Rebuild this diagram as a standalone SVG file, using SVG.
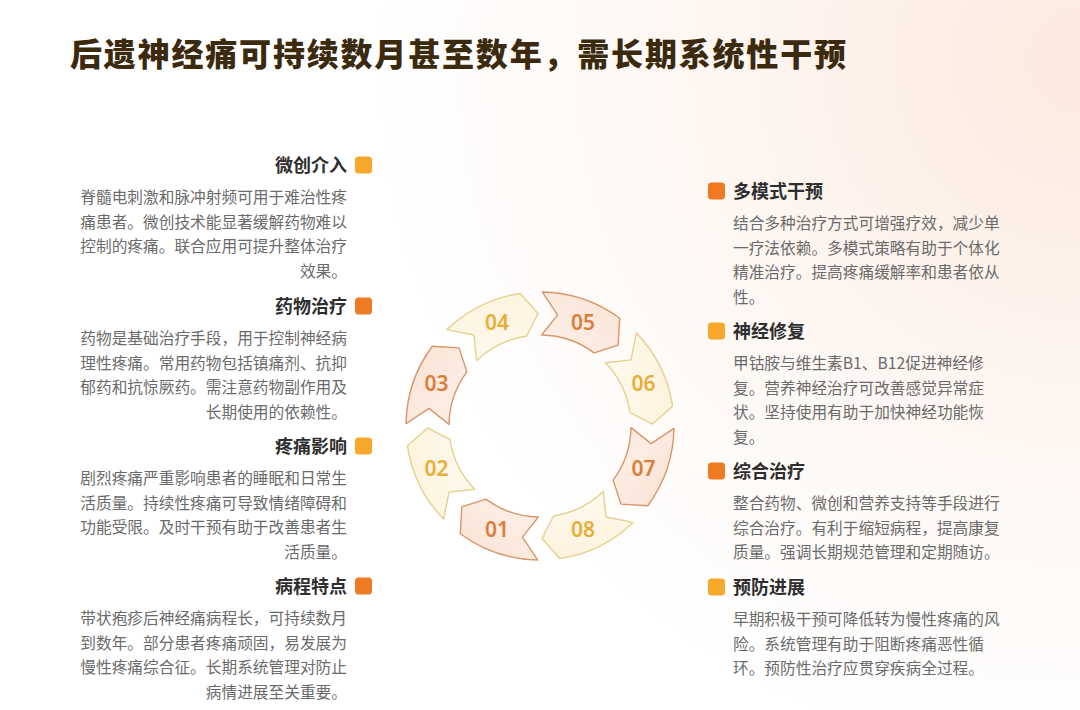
<svg xmlns="http://www.w3.org/2000/svg" width="1080" height="710" viewBox="0 0 1080 710">
<defs>
<radialGradient id="bg" cx="1080" cy="60" r="700" gradientUnits="userSpaceOnUse">
<stop offset="0" stop-color="#fce9de"/>
<stop offset="0.5" stop-color="#fef6f1"/>
<stop offset="1" stop-color="#ffffff"/>
</radialGradient>
<linearGradient id="fo" x1="0" y1="0" x2="1" y2="1">
<stop offset="0" stop-color="#fdf1e9"/>
<stop offset="1" stop-color="#fae3d4"/>
</linearGradient>
<linearGradient id="fe" x1="0" y1="0" x2="1" y2="1">
<stop offset="0" stop-color="#fffbf1"/>
<stop offset="1" stop-color="#fdf1d9"/>
</linearGradient>
<path id="seg" d="M133.98,2.34 A134,134 0 0 1 107.72,79.71 L80.93,78.15 L73.15,54.13 A91,91 0 0 0 90.99,1.59 L111.12,17.60 Z"/>
<style>
.title{font-family:"Noto Sans CJK SC","Noto Sans",sans-serif;font-size:32px;font-weight:900;fill:#3b2a0d}
.h{font-family:"Noto Sans CJK SC","Noto Sans",sans-serif;font-size:18px;font-weight:700;fill:#2e2e2e}
.b{font-family:"Noto Sans CJK SC","Noto Sans",sans-serif;font-size:15.7px;font-weight:400;fill:#6b6b6b}
.l .b,.l .h{text-anchor:end}
.mo{fill:#ef7a22}
.my{fill:#f5a82a}
.so{fill:url(#fo);stroke:#d9956a;stroke-width:1.4;stroke-linejoin:round}
.se{fill:url(#fe);stroke:#e6d08e;stroke-width:1.4;stroke-linejoin:round}
.num{font-family:"Noto Sans","Open Sans",sans-serif;font-size:21px;font-weight:600;text-anchor:middle}
.no{fill:#dc7d3c}
.ne{fill:#e8ae36}
</style>
</defs>
<rect width="1080" height="710" fill="url(#bg)"/>
<text class="title" x="70" y="66" textLength="776" lengthAdjust="spacing">后遗神经痛可持续数月甚至数年，需长期系统性干预</text>

<g id="connectors"></g>

<g id="ring">
<g id="seg01"><use href="#seg" class="so" transform="translate(540,426) rotate(90)"/><text class="num no" x="497.1" y="537">01</text></g>
<g id="seg02"><use href="#seg" class="se" transform="translate(540,426) rotate(135)"/><text class="num ne" x="436.5" y="476.4">02</text></g>
<g id="seg03"><use href="#seg" class="so" transform="translate(540,426) rotate(180)"/><text class="num no" x="436.5" y="390.6">03</text></g>
<g id="seg04"><use href="#seg" class="se" transform="translate(540,426) rotate(225)"/><text class="num ne" x="497.1" y="330">04</text></g>
<g id="seg05"><use href="#seg" class="so" transform="translate(540,426) rotate(-90)"/><text class="num no" x="582.9" y="330">05</text></g>
<g id="seg06"><use href="#seg" class="se" transform="translate(540,426) rotate(-45)"/><text class="num ne" x="643.5" y="390.6">06</text></g>
<g id="seg07"><use href="#seg" class="so" transform="translate(540,426) rotate(0)"/><text class="num no" x="643.5" y="476.4">07</text></g>
<g id="seg08"><use href="#seg" class="se" transform="translate(540,426) rotate(45)"/><text class="num ne" x="582.9" y="537">08</text></g>
</g>

<g id="left-1" class="l">
<rect class="my" x="355" y="156.5" width="17" height="17" rx="3.5"/>
<text class="h" x="347" y="171.5">微创介入</text>
<text class="b" x="347" y="203">脊髓电刺激和脉冲射频可用于难治性疼</text>
<text class="b" x="347" y="227.5">痛患者。微创技术能显著缓解药物难以</text>
<text class="b" x="347" y="252">控制的疼痛。联合应用可提升整体治疗</text>
<text class="b" x="347" y="276.5">效果。</text>
</g>
<g id="left-2" class="l">
<rect class="mo" x="355" y="297.5" width="17" height="17" rx="3.5"/>
<text class="h" x="347" y="312.5">药物治疗</text>
<text class="b" x="347" y="344">药物是基础治疗手段，用于控制神经病</text>
<text class="b" x="347" y="368.5">理性疼痛。常用药物包括镇痛剂、抗抑</text>
<text class="b" x="347" y="393">郁药和抗惊厥药。需注意药物副作用及</text>
<text class="b" x="347" y="417.5">长期使用的依赖性。</text>
</g>
<g id="left-3" class="l">
<rect class="my" x="355" y="437.5" width="17" height="17" rx="3.5"/>
<text class="h" x="347" y="452.5">疼痛影响</text>
<text class="b" x="347" y="484">剧烈疼痛严重影响患者的睡眠和日常生</text>
<text class="b" x="347" y="508.5">活质量。持续性疼痛可导致情绪障碍和</text>
<text class="b" x="347" y="533">功能受限。及时干预有助于改善患者生</text>
<text class="b" x="347" y="557.5">活质量。</text>
</g>
<g id="left-4" class="l">
<rect class="mo" x="355" y="577.5" width="17" height="17" rx="3.5"/>
<text class="h" x="347" y="592.5">病程特点</text>
<text class="b" x="347" y="624">带状疱疹后神经痛病程长，可持续数月</text>
<text class="b" x="347" y="648.5">到数年。部分患者疼痛顽固，易发展为</text>
<text class="b" x="347" y="673">慢性疼痛综合征。长期系统管理对防止</text>
<text class="b" x="347" y="697.5">病情进展至关重要。</text>
</g>

<g id="right-1">
<rect class="mo" x="708" y="182.5" width="17" height="17" rx="3.5"/>
<text class="h" x="733" y="197.5">多模式干预</text>
<text class="b" x="733" y="229">结合多种治疗方式可增强疗效，减少单</text>
<text class="b" x="733" y="253.5">一疗法依赖。多模式策略有助于个体化</text>
<text class="b" x="733" y="278">精准治疗。提高疼痛缓解率和患者依从</text>
<text class="b" x="733" y="302.5">性。</text>
</g>
<g id="right-2">
<rect class="my" x="708" y="322.5" width="17" height="17" rx="3.5"/>
<text class="h" x="733" y="337.5">神经修复</text>
<text class="b" x="733" y="369">甲钴胺与维生素B1、B12促进神经修</text>
<text class="b" x="733" y="393.5">复。营养神经治疗可改善感觉异常症</text>
<text class="b" x="733" y="418">状。坚持使用有助于加快神经功能恢</text>
<text class="b" x="733" y="442.5">复。</text>
</g>
<g id="right-3">
<rect class="mo" x="708" y="462.5" width="17" height="17" rx="3.5"/>
<text class="h" x="733" y="477.5">综合治疗</text>
<text class="b" x="733" y="509">整合药物、微创和营养支持等手段进行</text>
<text class="b" x="733" y="533.5">综合治疗。有利于缩短病程，提高康复</text>
<text class="b" x="733" y="558">质量。强调长期规范管理和定期随访。</text>
</g>
<g id="right-4">
<rect class="my" x="708" y="578.5" width="17" height="17" rx="3.5"/>
<text class="h" x="733" y="593.5">预防进展</text>
<text class="b" x="733" y="625">早期积极干预可降低转为慢性疼痛的风</text>
<text class="b" x="733" y="649.5">险。系统管理有助于阻断疼痛恶性循</text>
<text class="b" x="733" y="674">环。预防性治疗应贯穿疾病全过程。</text>
</g>
</svg>
